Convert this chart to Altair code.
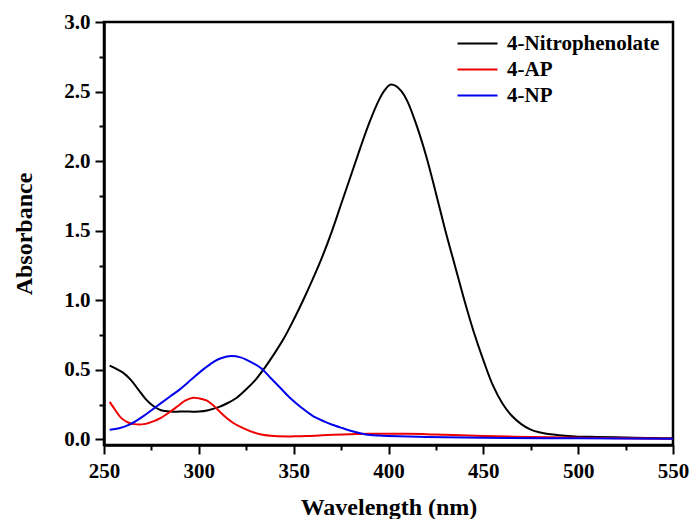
import altair as alt
import pandas as pd

series_names = ["4-Nitrophenolate", "4-AP", "4-NP"]
series_colors = ["#000000", "#ee0000", "#0000ee"]

wl_nitrophenolate = [253, 256, 260, 264, 268, 272, 276, 280, 285, 290, 295, 300, 305, 310, 315,
                     320, 325, 330, 335, 340, 345, 350, 355, 360, 365, 370, 375, 380, 385, 390,
                     395, 398, 401, 404, 407, 410, 415, 420, 425, 430, 435, 440, 445, 450, 455,
                     460, 465, 470, 475, 480, 490, 500, 510, 520, 530, 540, 550]
ab_nitrophenolate = [0.53, 0.51, 0.48, 0.43, 0.36, 0.29, 0.24, 0.21, 0.20, 0.20, 0.20, 0.20, 0.21,
                     0.23, 0.26, 0.30, 0.36, 0.43, 0.52, 0.62, 0.73, 0.86, 1.00, 1.15, 1.31, 1.49,
                     1.69, 1.89, 2.09, 2.28, 2.44, 2.51, 2.55, 2.54, 2.50, 2.43, 2.25, 2.03, 1.77,
                     1.50, 1.25, 1.00, 0.77, 0.57, 0.39, 0.26, 0.17, 0.11, 0.07, 0.05, 0.03, 0.02,
                     0.018, 0.015, 0.012, 0.01, 0.008]

wl_ap = [253, 256, 259, 263, 266, 271, 276, 280, 285, 289, 293, 297, 300, 304, 308, 311, 315, 318,
         322, 327, 333, 340, 350, 357, 365, 376, 390, 400, 410, 420, 430, 450, 475, 500, 525, 550]
ab_ap = [0.27, 0.21, 0.155, 0.12, 0.11, 0.11, 0.13, 0.155, 0.20, 0.24, 0.28, 0.30, 0.295, 0.28,
         0.24, 0.20, 0.15, 0.12, 0.09, 0.06, 0.035, 0.024, 0.022, 0.024, 0.03, 0.036, 0.04, 0.04,
         0.04, 0.038, 0.033, 0.025, 0.018, 0.012, 0.008, 0.005]

wl_np = [253, 258, 264, 270, 278, 285, 290, 296, 302, 308, 312, 317, 322, 327, 333, 338, 343, 348,
         354, 360, 366, 370, 376, 382, 388, 395, 400, 420, 450, 500, 550]
ab_np = [0.07, 0.08, 0.11, 0.16, 0.24, 0.31, 0.36, 0.43, 0.50, 0.56, 0.585, 0.60, 0.59, 0.56, 0.51,
         0.44, 0.37, 0.30, 0.23, 0.17, 0.13, 0.107, 0.08, 0.055, 0.036, 0.028, 0.025, 0.018, 0.012,
         0.008, 0.005]

x_ticks = list(range(250, 551, 25))
y_ticks = [i * 0.25 for i in range(13)]

rows = []
for name, wls, abs_ in [(series_names[0], wl_nitrophenolate, ab_nitrophenolate),
                        (series_names[1], wl_ap, ab_ap),
                        (series_names[2], wl_np, ab_np)]:
    for w, a in zip(wls, abs_):
        rows.append({"series": name, "wl": w, "ab": a})
df = pd.DataFrame(rows)

FONT = "Liberation Serif"

x_axis = alt.Axis(
    values=x_ticks,
    labelExpr="datum.value % 50 == 0 ? datum.label : ''",
    tickSize={"condition": {"test": "datum.value % 50 == 0", "value": 9}, "value": 5},
    tickWidth=2, tickColor="black", domainColor="black", domainWidth=2.5,
    labelFont=FONT, labelFontSize=21, labelFontWeight="bold", labelColor="black",
    labelPadding=6, title="Wavelength (nm)", titleFont=FONT, titleFontSize=24,
    titleFontWeight="bold", titleColor="black", titlePadding=14, grid=False,
    labelFlush=False, labelOverlap=False,
)
y_axis = alt.Axis(
    values=y_ticks,
    labelExpr="abs(datum.value % 0.5) < 0.001 ? format(datum.value, '.1f') : ''",
    tickSize={"condition": {"test": "abs(datum.value % 0.5) < 0.001", "value": 9}, "value": 5},
    tickWidth=2, tickColor="black", domainColor="black", domainWidth=2.5,
    labelFont=FONT, labelFontSize=21, labelFontWeight="bold", labelColor="black",
    labelPadding=5, title="Absorbance", titleFont=FONT, titleFontSize=24,
    titleFontWeight="bold", titleColor="black", titlePadding=27, grid=False,
    labelFlush=False, labelOverlap=False,
)

chart = alt.Chart(df).mark_line(strokeWidth=2, interpolate="catmull-rom", clip=True).encode(
    x=alt.X("wl:Q", scale=alt.Scale(domain=[250, 550], nice=False, zero=False), axis=x_axis),
    y=alt.Y("ab:Q", scale=alt.Scale(domain=[-0.04, 3.0], nice=False, zero=False), axis=y_axis),
    color=alt.Color("series:N",
                    scale=alt.Scale(domain=series_names, range=series_colors),
                    legend=alt.Legend(
                        title=None, orient="none", legendX=378, legendY=11,
                        symbolType="M-7,0H1", symbolSize=100, symbolStrokeWidth=2,
                        symbolFillColor="transparent",
                        labelFont=FONT, labelFontSize=21, labelFontWeight="bold",
                        labelColor="black", labelOffset=4, rowPadding=4, padding=0,
                    )),
    detail="series:N",
    order=alt.Order("wl:Q"),
).properties(
    width=569, height=423,
    background="white",
    autosize=alt.AutoSizeParams(type="none"),
    padding={"left": 96, "top": 14, "right": 16, "bottom": 74},
).configure_view(
    stroke="black", strokeWidth=2.5
)

chart.save("out.html", embed_options={"renderer": "svg", "actions": False})
